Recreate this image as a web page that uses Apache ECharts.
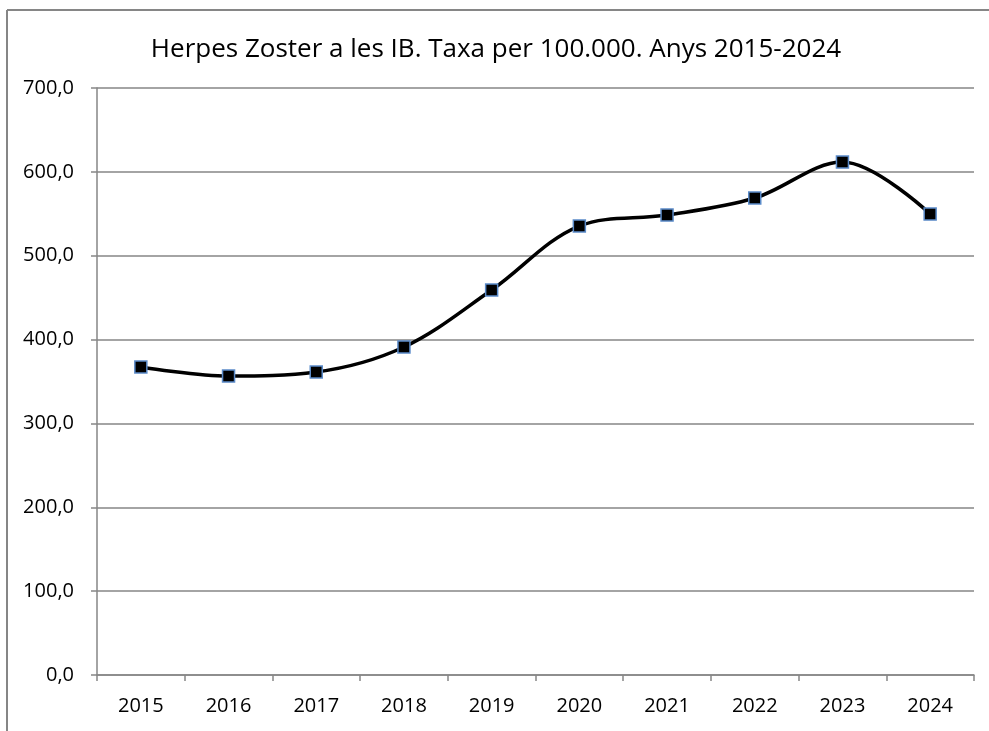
<!DOCTYPE html>
<html>
<head>
<meta charset="utf-8">
<script src="https://cdn.jsdelivr.net/npm/echarts@6/dist/echarts.min.js"></script>
<style>
html,body{margin:0;padding:0;background:#fff;}
#chart{width:989px;height:731px;}
</style>
</head>
<body>
<div id="chart"></div>
<script>
var titleText = 'Herpes Zoster a les IB. Taxa per 100.000. Anys 2015-2024';
var years = ['2015','2016','2017','2018','2019','2020','2021','2022','2023','2024'];
var rates = [367.3, 356.5, 361.3, 391.1, 459.1, 535.4, 548.5, 568.8, 611.7, 549.7];

var chart = echarts.init(document.getElementById('chart'));
chart.setOption({
  backgroundColor: '#fff',
  animation: false,
  title: {
    text: titleText,
    left: 491, top: 32, textAlign: 'center',
    textStyle: {fontFamily: 'Open Sans', fontSize: 26, fontWeight: 'normal', color: '#000'}
  },
  graphic: [
    {type: 'line', shape: {x1: 7, y1: 10, x2: 989, y2: 10}, style: {stroke: '#868686', lineWidth: 2}},
    {type: 'line', shape: {x1: 7, y1: 10, x2: 7, y2: 731}, style: {stroke: '#868686', lineWidth: 2}}
  ],
  grid: {left: 97, right: 15, top: 88, bottom: 56, containLabel: false},
  xAxis: {
    type: 'category',
    data: years,
    boundaryGap: true,
    axisLine: {lineStyle: {color: '#868686', width: 1.5}},
    axisTick: {show: true, length: 6, lineStyle: {color: '#868686', width: 1.5}},
    axisLabel: {fontFamily: 'Open Sans', fontSize: 20, color: '#000', margin: 21}
  },
  yAxis: {
    type: 'value',
    min: 0, max: 700, interval: 100,
    axisLine: {show: true, lineStyle: {color: '#868686', width: 1.5}},
    axisTick: {show: true, length: 6, lineStyle: {color: '#868686', width: 1.5}},
    splitLine: {lineStyle: {color: '#868686', width: 1.5}},
    axisLabel: {
      fontFamily: 'Open Sans', fontSize: 20, color: '#000', margin: 23,
      formatter: function (v) { return v.toFixed(1).replace('.', ','); }
    }
  },
  series: [{
    type: 'line',
    data: rates,
    smooth: 0.35,
    symbol: 'rect',
    symbolSize: 12,
    lineStyle: {color: '#000', width: 3.5},
    itemStyle: {color: '#000', borderColor: '#5b8bc9', borderWidth: 1.5}
  }]
});
</script>
</body>
</html>
